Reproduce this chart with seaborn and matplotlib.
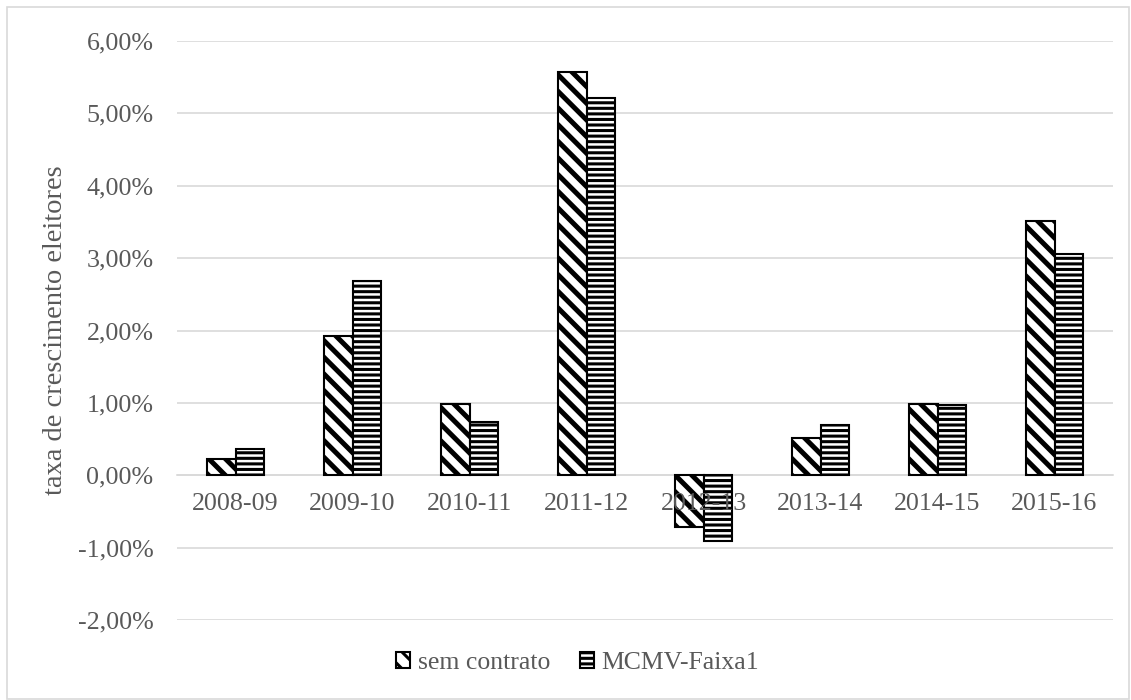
import pandas as pd
import matplotlib.pyplot as plt
import matplotlib.ticker as mticker
from matplotlib.patches import Patch, Rectangle
import seaborn as sns

# Values (growth rate, %)
periods = ['2008-09', '2009-10', '2010-11', '2011-12',
           '2012-13', '2013-14', '2014-15', '2015-16']
sem_contrato = [0.22, 1.93, 0.99, 5.57, -0.72, 0.52, 0.99, 3.51]
mcmv_faixa1 = [0.36, 2.68, 0.73, 5.21, -0.91, 0.69, 0.97, 3.06]
series_names = ['sem contrato', 'MCMV-Faixa1']
hatches = ['\\\\', '---']
hatch_widths = [3.6, 2.2]

text_color = '#595959'
grid_color = '#d9d9d9'


def style_patch(p, hatch, hw):
    p.set_hatch(hatch)
    if hasattr(p, 'set_hatch_linewidth'):
        p.set_hatch_linewidth(hw)


def main():
    df = pd.DataFrame({
        'periodo': periods * 2,
        'valor': sem_contrato + mcmv_faixa1,
        'serie': [series_names[0]] * len(periods) + [series_names[1]] * len(periods),
    })

    sns.set_style('white')
    plt.rcParams['font.family'] = ['Liberation Serif', 'DejaVu Serif']
    plt.rcParams['hatch.linewidth'] = 2.2
    plt.rcParams['hatch.color'] = 'black'

    fig = plt.figure(figsize=(11.31, 7.0), dpi=100)
    ax = fig.add_axes([177 / 1131, 1 - 620 / 700, (1113 - 177) / 1131, (620 - 41) / 700])

    sns.barplot(data=df, x='periodo', y='valor', hue='serie', hue_order=series_names,
                palette=['white', 'white'], edgecolor='black', linewidth=1.5,
                width=0.49, gap=0, legend=False, ax=ax)

    # hatch each series
    for cont, hatch, hw in zip(ax.containers, hatches, hatch_widths):
        for bar in cont:
            style_patch(bar, hatch, hw)

    ax.set_ylim(-2, 6)
    ax.set_xlim(-0.5, len(periods) - 0.5)
    ax.yaxis.set_major_locator(mticker.MultipleLocator(1))
    ax.yaxis.set_major_formatter(mticker.FuncFormatter(
        lambda v, pos: f'{v:.2f}%'.replace('.', ',')))
    ax.grid(axis='y', color=grid_color, linewidth=1.2)
    ax.set_axisbelow(True)
    ax.xaxis.set_zorder(3)  # category labels sit on top of the negative bars
    for side in ['top', 'right', 'left']:
        ax.spines[side].set_visible(False)
    ax.spines['bottom'].set_position(('data', 0))
    ax.spines['bottom'].set_color(grid_color)
    ax.spines['bottom'].set_linewidth(1.2)
    ax.spines['bottom'].set_zorder(0.5)

    ax.tick_params(axis='x', length=0, pad=13, labelsize=18.7, labelcolor=text_color)
    ax.tick_params(axis='y', length=0, pad=17, labelsize=18.7, labelcolor=text_color)
    ax.set_xlabel('')
    ax.set_ylabel('taxa de crescimento eleitores', fontsize=20.5, color=text_color, labelpad=7)

    handles = []
    for h, hw in zip(hatches, hatch_widths):
        p = Patch(facecolor='white', edgecolor='black', linewidth=1.5)
        style_patch(p, h, hw)
        handles.append(p)
    fig.legend(handles, series_names, loc='center', bbox_to_anchor=(0.5106, 1 - 663 / 700),
               ncol=2, frameon=False, fontsize=18.5, labelcolor=text_color,
               handlelength=0.55, handleheight=0.55, handletextpad=0.3, columnspacing=1.15)

    # outer chart border
    fig.patches.append(Rectangle((7 / 1131, 1 / 700), 1 - 9 / 1131, 1 - 8 / 700,
                                 transform=fig.transFigure, fill=False,
                                 edgecolor=grid_color, linewidth=1.2))

    fig.savefig('out.png', dpi=100)
    plt.close('all')


if __name__ == '__main__':
    main()
